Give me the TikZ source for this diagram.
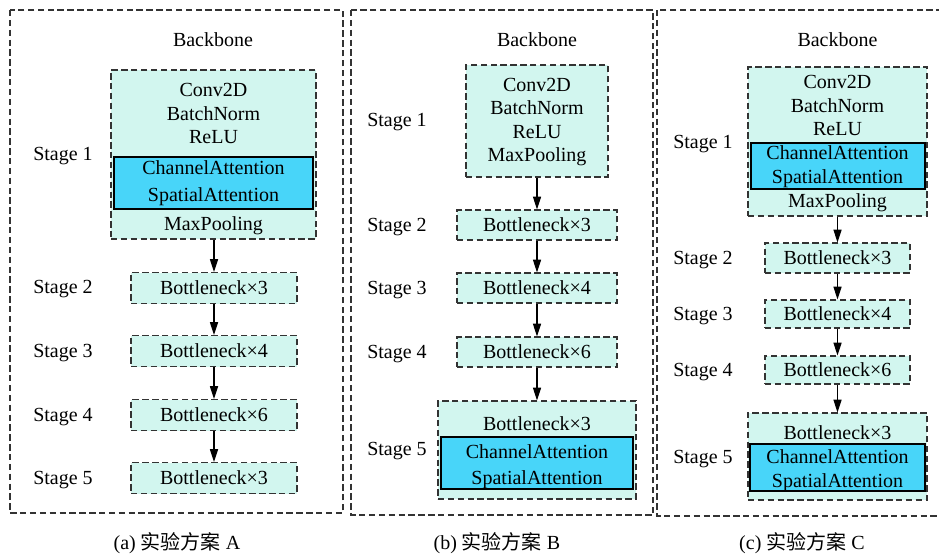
\documentclass[tikz,border=0pt]{standalone}
\usepackage{fontspec}
\setmainfont{Liberation Serif}
\newfontfamily\cjk{Noto Sans CJK SC}
\usetikzlibrary{arrows.meta}
\definecolor{mint}{HTML}{D2F6EF}
\definecolor{attn}{HTML}{48D5F9}
\definecolor{edge}{HTML}{333333}
\tikzset{
  every node/.style={font=\fontsize{15pt}{18pt}\selectfont},
  sz/.style 2 args={minimum width=#1*0.75pt, minimum height=#2*0.75pt, inner sep=0pt},
  panel/.style={draw=edge, line width=0.9pt, dash pattern=on 4.8pt off 2.6pt},
  stg/.style={draw=edge, fill=mint, line width=0.9pt, dash pattern=on 4.8pt off 2.6pt},
  att/.style={draw=black, fill=attn, line width=0.8pt},
  txt/.style={anchor=base, inner sep=0pt, yshift=-4.9pt},
  lab/.style={anchor=base west, inner sep=0pt, yshift=-4.9pt},
  figcap/.style={anchor=base, inner sep=0pt, yshift=-4.9pt},
  arr/.style={draw=black, line width=0.9pt, -{Triangle[length=9.5pt,width=6pt]}},
}
\begin{document}
\begin{tikzpicture}[x=0.75pt, y=-0.75pt]
\useasboundingbox (0,0) rectangle (939,557);

% ---------------- panel (a) ----------------
\draw[panel] (10,10) rectangle (343,513);
\node[txt] (aback) at (213,40) {Backbone};
\node[stg, sz={205}{169}] (a1) at (213.5,154.5) {};
\node[att, sz={199}{52}] (a1att) at (213.5,183) {};
\node[txt] (a1c) at (213.5,90) {Conv2D};
\node[txt] (a1b) at (213.5,114) {BatchNorm};
\node[txt] (a1r) at (213.5,137) {ReLU};
\node[txt] (a1ca) at (213.5,168) {ChannelAttention};
\node[txt] (a1sa) at (213.5,195) {SpatialAttention};
\node[txt] (a1m) at (213.5,224) {MaxPooling};
\node[stg, sz={166}{31}] (a2) at (214,288) {Bottleneck×3};
\node[stg, sz={166}{31}] (a3) at (214,351) {Bottleneck×4};
\node[stg, sz={166}{31}] (a4) at (214,415) {Bottleneck×6};
\node[stg, sz={166}{31}] (a5) at (214,478) {Bottleneck×3};
\node[lab] (al1) at (33,154) {Stage 1};
\node[lab] (al2) at (33,287) {Stage 2};
\node[lab] (al3) at (33,351) {Stage 3};
\node[lab] (al4) at (33,415) {Stage 4};
\node[lab] (al5) at (33,478) {Stage 5};
\draw[arr] (a1.south -| a2.north) -- (a2.north);
\draw[arr] (a2) -- (a3);
\draw[arr] (a3) -- (a4);
\draw[arr] (a4) -- (a5);
\node[figcap] (acap) at (177,543) {(a) {\cjk 实验方案} A};

% ---------------- panel (b) ----------------
\draw[panel] (351,10) rectangle (653,515);
\node[txt] (bback) at (537,40) {Backbone};
\node[stg, sz={142}{112}] (b1) at (537,121) {};
\node[txt] (b1c) at (537,85) {Conv2D};
\node[txt] (b1b) at (537,108) {BatchNorm};
\node[txt] (b1r) at (537,132) {ReLU};
\node[txt] (b1m) at (537,155) {MaxPooling};
\node[stg, sz={160}{30}] (b2) at (537,225) {Bottleneck×3};
\node[stg, sz={160}{30}] (b3) at (537,288) {Bottleneck×4};
\node[stg, sz={160}{30}] (b4) at (537,352) {Bottleneck×6};
\node[stg, sz={198}{98}] (b5) at (537,450) {};
\node[att, sz={192}{52}] (b5att) at (537,463) {};
\node[txt] (b5bn) at (537,424) {Bottleneck×3};
\node[txt] (b5ca) at (537,452) {ChannelAttention};
\node[txt] (b5sa) at (537,478) {SpatialAttention};
\node[lab] (bl1) at (367,120) {Stage 1};
\node[lab] (bl2) at (367,225) {Stage 2};
\node[lab] (bl3) at (367,288) {Stage 3};
\node[lab] (bl4) at (367,352) {Stage 4};
\node[lab] (bl5) at (367,449) {Stage 5};
\draw[arr] (b1) -- (b2);
\draw[arr] (b2) -- (b3);
\draw[arr] (b3) -- (b4);
\draw[arr] (b4) -- (b5);
\node[figcap] (bcap) at (497,543) {(b) {\cjk 实验方案} B};

% ---------------- panel (c) ----------------
\draw[panel] (657,10) rectangle (950,516);
\node[txt] (cback) at (837.5,40) {Backbone};
\node[stg, sz={179}{149}] (c1) at (837.5,141.5) {};
\node[att, sz={174}{46}] (c1att) at (838,166) {};
\node[txt] (c1c) at (837.5,82) {Conv2D};
\node[txt] (c1b) at (837.5,106) {BatchNorm};
\node[txt] (c1r) at (837.5,129) {ReLU};
\node[txt] (c1ca) at (837.5,153) {ChannelAttention};
\node[txt] (c1sa) at (837.5,177) {SpatialAttention};
\node[txt] (c1m) at (837.5,201) {MaxPooling};
\node[stg, sz={145}{30}] (c2) at (837.5,258) {Bottleneck×3};
\node[stg, sz={145}{28}] (c3) at (837.5,314) {Bottleneck×4};
\node[stg, sz={145}{28}] (c4) at (837.5,370) {Bottleneck×6};
\node[stg, sz={179}{87}] (c5) at (837.5,456.5) {};
\node[att, sz={175}{47}] (c5att) at (837.5,467.5) {};
\node[txt] (c5bn) at (837.5,433) {Bottleneck×3};
\node[txt] (c5ca) at (837.5,457) {ChannelAttention};
\node[txt] (c5sa) at (837.5,481) {SpatialAttention};
\node[lab] (cl1) at (673,142) {Stage 1};
\node[lab] (cl2) at (673,258) {Stage 2};
\node[lab] (cl3) at (673,314) {Stage 3};
\node[lab] (cl4) at (673,370) {Stage 4};
\node[lab] (cl5) at (673,457) {Stage 5};
\draw[arr] (c1) -- (c2);
\draw[arr] (c2) -- (c3);
\draw[arr] (c3) -- (c4);
\draw[arr] (c4) -- (c5);
\node[figcap] (ccap) at (802,543) {(c) {\cjk 实验方案} C};
\end{tikzpicture}
\end{document}
